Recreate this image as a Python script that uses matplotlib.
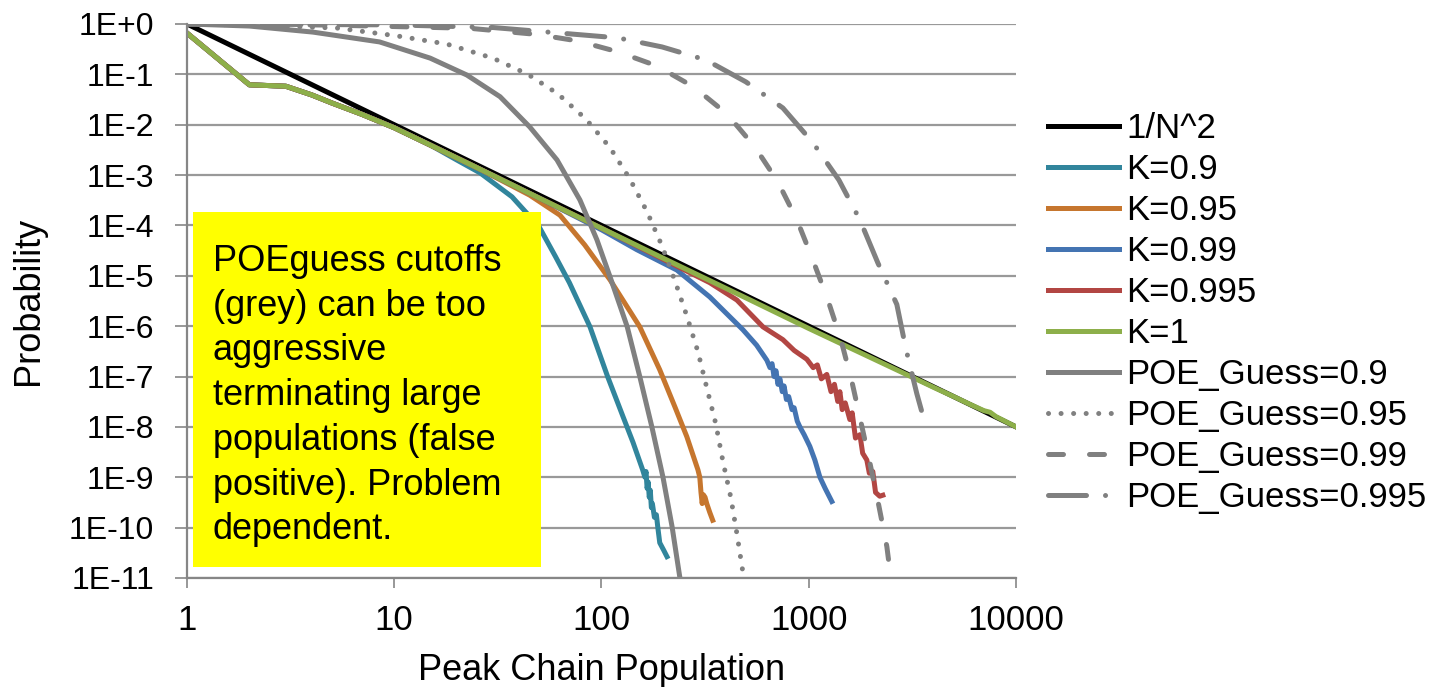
import matplotlib
matplotlib.use("Agg")
import matplotlib.pyplot as plt
from matplotlib.patches import Rectangle

plt.rcParams['font.family'] = ['Liberation Sans', 'DejaVu Sans']

# reference line 1/N^2
ref_n = [1, 10, 100, 1000, 10000]
ref_p = [1, 1e-2, 1e-4, 1e-6, 1e-8]

# K = 0.9
k090_n = [1, 2, 3, 4, 5, 7, 10, 15, 20, 26, 37, 50, 60, 70, 88, 107, 127, 142, 158,
          162, 164, 166, 168, 170, 172, 174, 176, 180, 184, 187, 191, 200, 207]
k090_p = [0.66, 0.062, 0.058, 0.039, 0.027, 0.016, 0.0087, 0.0039, 2.0e-3, 1.1e-3, 3.7e-4,
          9.4e-5, 2.4e-5, 7.3e-6, 9.7e-7, 1.0e-7, 1.6e-8, 4.9e-9, 1.4e-9,
          1.0e-9, 1.3e-9, 6e-10, 8e-10, 4e-10, 5.5e-10, 2.5e-10, 3e-10, 1.6e-10, 1.8e-10,
          1.0e-10, 5e-11, 3.5e-11, 2.65e-11]

# K = 0.95
k095_n = [1, 2, 3, 4, 5, 7, 10, 15, 20, 26, 45, 63, 83, 110, 153, 191, 226, 258, 292,
          298, 302, 306, 310, 316, 322, 333, 344]
k095_p = [0.66, 0.062, 0.058, 0.039, 0.027, 0.016, 0.0087, 0.0039, 2.2e-3, 1.3e-3, 4.0e-4,
          1.6e-4, 4.1e-5, 8.3e-6, 9.7e-7, 1.36e-7, 2.5e-8, 6.4e-9, 1.4e-9,
          1.0e-9, 5.0e-10, 3.0e-10, 4.5e-10, 4.0e-10, 3.0e-10, 2.0e-10, 1.4e-10]

# K = 0.99
k099_n = [1, 2, 3, 4, 5, 7, 10, 15, 20, 30, 50, 100, 148, 231, 333, 481, 560, 628,
          650, 665, 680, 695, 710, 726, 745, 760, 780, 800, 830, 850, 880, 906,
          950, 1012, 1070, 1132, 1200, 1292]
k099_p = [0.66, 0.062, 0.058, 0.039, 0.027, 0.016, 0.0087, 0.0039, 2.2e-3, 9.8e-4, 3.5e-4,
          8.2e-5, 3.3e-5, 1.3e-5, 3.8e-6, 8.5e-7, 4.2e-7, 2.1e-7,
          1.5e-7, 1.8e-7, 1.0e-7, 1.3e-7, 7e-8, 9e-8, 5e-8, 6.5e-8, 3.5e-8, 4e-8,
          2.2e-8, 2.4e-8, 1.3e-8, 1.0e-8, 7e-9, 4.1e-9, 2.2e-9, 1.0e-9, 6e-10, 3.3e-10]

# K = 0.995
k0995_n = [1, 2, 3, 4, 5, 7, 10, 15, 20, 30, 50, 100, 171, 333, 450, 601, 750, 850, 979,
           1050, 1100, 1150, 1222, 1280, 1330, 1380, 1413, 1450, 1500, 1578, 1620, 1680,
           1765, 1820, 1906, 1960, 2037, 2100, 2200, 2277]
k0995_p = [0.66, 0.062, 0.058, 0.039, 0.027, 0.016, 0.0087, 0.0039, 2.2e-3, 9.8e-4, 3.5e-4,
           8.8e-5, 2.9e-5, 7.3e-6, 3.3e-6, 9.7e-7, 5.4e-7, 3.3e-7, 2.2e-7,
           1.5e-7, 1.7e-7, 9e-8, 1.1e-7, 5e-8, 7e-8, 3.2e-8, 5e-8, 2.2e-8, 3.0e-8, 1.4e-8,
           1.9e-8, 6e-9, 7e-9, 3e-9, 2.2e-9, 1.2e-9, 1.3e-9, 5e-10, 4.2e-10, 4.4e-10]

# K = 1
k1_n = [1, 2, 3, 4, 5, 7, 10, 15, 20, 30, 50, 100, 200, 500, 1000, 1500, 2000, 3000,
        4000, 5000, 6000, 7000, 7500, 8000, 9000, 10000]
k1_p = [0.66, 0.062, 0.058, 0.039, 0.027, 0.016, 0.0087, 0.0039, 2.2e-3, 9.8e-4, 3.5e-4,
        8.8e-5, 2.2e-5, 3.6e-6, 9.0e-7, 4.1e-7, 2.35e-7, 1.07e-7,
        6.1e-8, 4.0e-8, 2.8e-8, 2.1e-8, 1.95e-8, 1.6e-8, 1.25e-8, 1.0e-8]

# POE_Guess cutoffs
poe90_n = [1, 2, 4.05, 8.5, 14.9, 22.4, 32.4, 45.1, 61, 78.7, 95, 110, 133, 153, 175, 198, 219, 239]
poe90_p = [1, 0.91, 0.69, 0.44, 0.21, 0.097, 0.036, 9.0e-3, 2.0e-3, 3.2e-4, 5.2e-5, 9.5e-6,
           9.8e-7, 1.0e-7, 1.0e-8, 1.0e-9, 1.05e-10, 1.0e-11]

poe95_n = [1, 2, 5.3, 10.3, 17.9, 29.9, 44.2, 61.6, 84, 110, 137, 166, 196, 226, 258, 292,
           322, 356, 385, 421, 450, 481, 492]
poe95_p = [1, 0.95, 0.83, 0.58, 0.40, 0.21, 0.10, 0.041, 0.013, 3.5e-3, 8.4e-4, 1.86e-4,
           3.9e-5, 8.0e-6, 1.6e-6, 3.1e-7, 6.0e-8, 1.15e-8, 2.1e-9, 3.9e-10, 7.6e-11, 1.3e-11, 1.0e-11]

poe99_n = [1, 5, 23.2, 48.8, 76.9, 120, 185, 279, 403, 550, 710, 877, 1036, 1237, 1429,
           1615, 1784, 1971, 2179, 2381, 2489]
poe99_p = [1, 0.95, 0.82, 0.62, 0.46, 0.28, 0.147, 0.056, 0.0164, 3.6e-3, 7.3e-4, 1.29e-4,
           2.3e-5, 3.3e-6, 5.4e-7, 7.9e-8, 1.26e-8, 1.95e-9, 2.7e-10, 4.2e-11, 1.0e-11]

poe995_n = [1, 10, 30, 63, 120, 196, 319, 497, 750, 1047, 1397, 1765, 2155, 2660, 2940, 3320, 3550]
poe995_p = [1, 0.96, 0.85, 0.66, 0.53, 0.35, 0.193, 0.071, 0.0215, 4.4e-3, 8.0e-4, 1.29e-4,
            1.8e-5, 2.7e-6, 3.6e-7, 4.6e-8, 1.7e-8]

x_ticks = [1, 10, 100, 1000, 10000]
x_labels = ['1', '10', '100', '1000', '10000']
y_ticks = [10.0 ** -i for i in range(12)]
y_labels = ['1E+0'] + ['1E-%d' % i for i in range(1, 12)]

note = ("POEguess cutoffs\n(grey) can be too\naggressive\nterminating large\n"
        "populations (false\npositive). Problem\ndependent.")

grey = '#808080'
lw = 3.6

fig = plt.figure(figsize=(14.55, 6.87), dpi=100)
ax = fig.add_axes([0.1285, 0.1587, 0.5698, 0.8064])

ax.plot(ref_n, ref_p, color='black', lw=lw, label='1/N^2')
ax.plot(k090_n, k090_p, color='#31859C', lw=lw, label='K=0.9')
ax.plot(k095_n, k095_p, color='#C6762E', lw=lw, label='K=0.95')
ax.plot(k099_n, k099_p, color='#4474B2', lw=lw, label='K=0.99')
ax.plot(k0995_n, k0995_p, color='#B24643', lw=lw, label='K=0.995')
ax.plot(k1_n, k1_p, color='#8DAF4A', lw=lw, label='K=1')
ax.plot(poe90_n, poe90_p, color=grey, lw=lw, label='POE_Guess=0.9')
ax.plot(poe95_n, poe95_p, color=grey, lw=lw, linestyle=(0, (0.01, 2.5)),
        dash_capstyle='round', label='POE_Guess=0.95')
ax.plot(poe99_n, poe99_p, color=grey, lw=lw, linestyle=(0, (3.0, 5.2)),
        dash_capstyle='round', label='POE_Guess=0.99')
ax.plot(poe995_n, poe995_p, color=grey, lw=lw, linestyle=(0, (7.6, 3.8, 0.01, 3.8)),
        dash_capstyle='round', label='POE_Guess=0.995')

ax.set_xscale('log')
ax.set_yscale('log')
ax.set_xlim(1, 10000)
ax.set_ylim(1e-11, 1)
ax.set_xticks(x_ticks)
ax.set_xticklabels(x_labels)
ax.set_yticks(y_ticks)
ax.set_yticklabels(y_labels)
ax.minorticks_off()
ax.tick_params(axis='x', direction='out', length=7, width=1.2, color='#868686', pad=12, labelsize=25)
ax.tick_params(axis='y', direction='out', length=8.6, width=1.2, color='#868686', pad=15, labelsize=23)
ax.grid(axis='y', color='#999999', lw=1.6)
ax.set_axisbelow(True)
for s in ['top', 'right']:
    ax.spines[s].set_visible(False)
for s in ['left', 'bottom']:
    ax.spines[s].set_color('#868686')
    ax.spines[s].set_linewidth(1.6)

ax.set_xlabel('Peak Chain Population', fontsize=26)
ax.set_ylabel('Probability', fontsize=26)
ax.xaxis.set_label_coords(0.5, -0.135)
ax.yaxis.set_label_coords(-0.17, 0.5)

ax.legend(loc='center left', bbox_to_anchor=(1048 / 1455, 1 - 313 / 687),
          bbox_transform=fig.transFigure, frameon=False, fontsize=25,
          handlelength=2.05, handletextpad=0.2, labelspacing=0.23,
          borderpad=0, borderaxespad=0)

# yellow note box
box = Rectangle((193 / 1455, 1 - 567 / 687), (541 - 193) / 1455, (567 - 212) / 687,
                transform=fig.transFigure, facecolor='#FFFF00', edgecolor='none', zorder=10)
fig.add_artist(box)
fig.text(213 / 1455, 1 - 244 / 687, note, ha='left', va='top', fontsize=26,
         linespacing=1.36, zorder=11)

fig.savefig('out.png', dpi=100)
